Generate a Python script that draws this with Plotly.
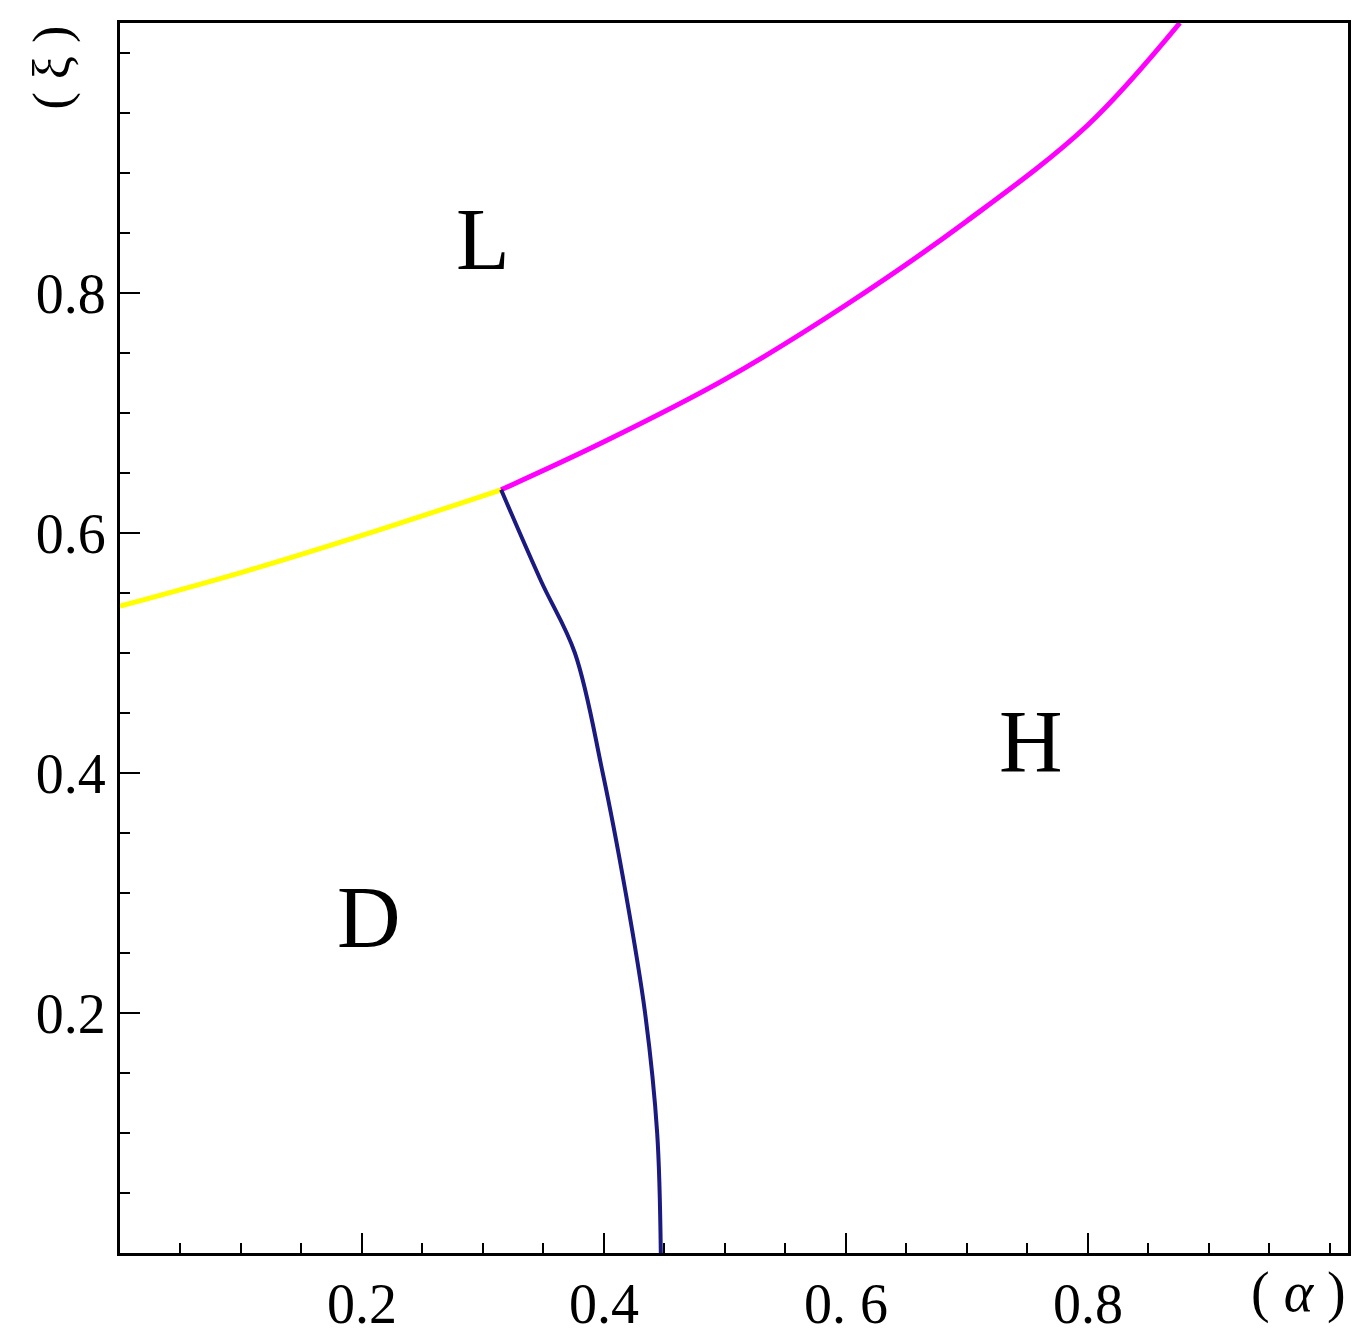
import plotly.graph_objects as go

yellow_x = [0.0, 0.1, 0.2, 0.315]
yellow_y = [0.539, 0.567, 0.598, 0.636]
mag_x = [0.315, 0.4, 0.5, 0.6, 0.7, 0.8, 0.876]
mag_y = [0.636, 0.676, 0.728, 0.790, 0.860, 0.940, 1.025]
blue_x = [0.315, 0.348, 0.376, 0.399, 0.418, 0.434, 0.444, 0.447]
blue_y = [0.636, 0.56, 0.50, 0.40, 0.30, 0.20, 0.10, 0.0]
labels = ["L", "D", "H"]
label_x = [0.30, 0.206, 0.753]
label_y = [0.845, 0.28, 0.426]
xtick_vals = [0.2, 0.4, 0.6, 0.8]
xtick_text = ["0.2", "0.4", "0. 6", "0.8"]
ytick_vals = [0.2, 0.4, 0.6, 0.8]
ytick_text = ["0.2", "0.4", "0.6", "0.8"]

fig = go.Figure()
fig.add_trace(go.Scatter(x=yellow_x, y=yellow_y, mode="lines", line=dict(color="#ffff00", width=5, shape="spline", smoothing=1.0)))
fig.add_trace(go.Scatter(x=mag_x, y=mag_y, mode="lines", line=dict(color="#ff00ff", width=5, shape="spline", smoothing=1.0)))
fig.add_trace(go.Scatter(x=blue_x, y=blue_y, mode="lines", line=dict(color="#1a1a80", width=4, shape="spline", smoothing=1.0)))
for t, x, y in zip(labels, label_x, label_y):
    fig.add_annotation(x=x, y=y, text=t, showarrow=False, font=dict(size=88, family="Liberation Serif", color="black"))
fig.add_annotation(x=1.0, y=-0.005, xref="paper", yref="paper", xanchor="right", yanchor="top",
                   text="( <i>α</i> )", showarrow=False,
                   font=dict(size=56, family="Liberation Serif", color="black"))
fig.add_annotation(x=-0.055, y=1.0, xref="paper", yref="paper", xanchor="center", yanchor="top",
                   text="( ξ )", textangle=-90, showarrow=False,
                   font=dict(size=52, family="Liberation Serif", color="black"))

ax = dict(showgrid=False, zeroline=False, showline=True, linecolor="black", linewidth=3, mirror=True,
          ticks="inside", ticklen=20, tickwidth=2, tickcolor="black",
          minor=dict(dtick=0.05, tick0=0, ticks="inside", ticklen=10, tickwidth=2, tickcolor="black"),
          tickfont=dict(size=56, family="Liberation Serif", color="black"))
fig.update_xaxes(**ax, range=[0, 1.015], tickvals=xtick_vals, ticktext=xtick_text)
fig.update_yaxes(**ax, range=[0, 1.025], tickvals=ytick_vals, ticktext=ytick_text)
fig.update_layout(width=1363, height=1339, showlegend=False, plot_bgcolor="white", paper_bgcolor="white",
                  margin=dict(l=112, r=23, t=12, b=86, pad=0))
fig.write_html("out.html")
